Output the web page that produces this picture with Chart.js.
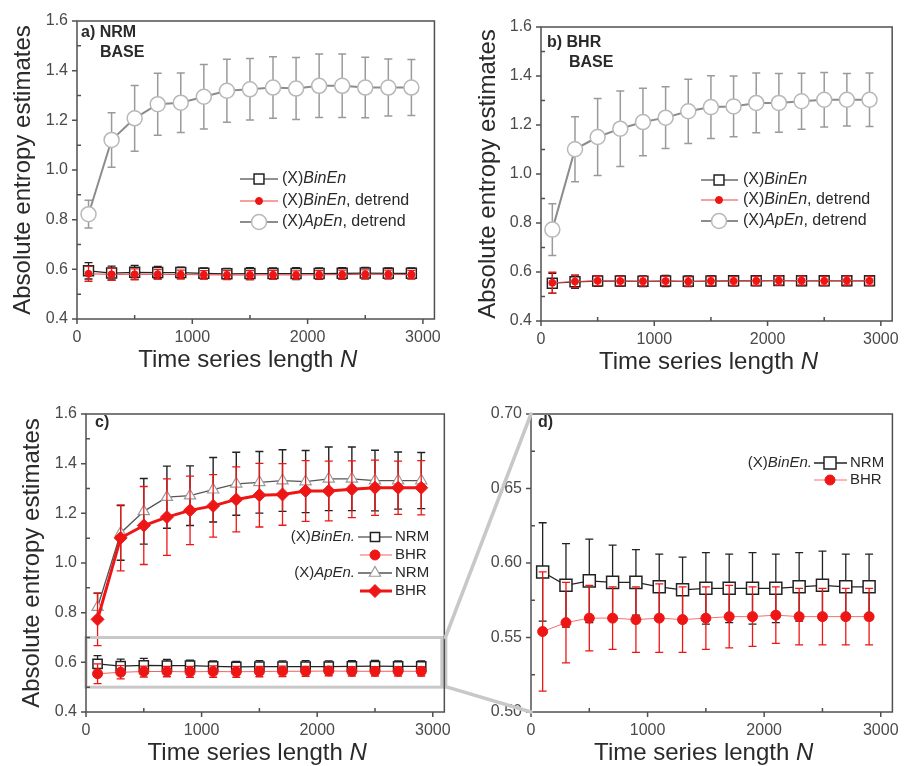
<!DOCTYPE html>
<html>
<head>
<meta charset="utf-8">
<script src="https://cdn.jsdelivr.net/npm/chart.js@4.4.1/dist/chart.umd.min.js"></script>
<style>
  body { margin: 0; background: #fff; width: 908px; height: 766px; position: relative; overflow: hidden; }
  canvas { position: absolute; }
  #overlay { left: 0; top: 0; pointer-events: none; }
</style>
</head>
<body>
<canvas id="ca"></canvas>
<canvas id="cb"></canvas>
<canvas id="cc"></canvas>
<canvas id="cd"></canvas>
<canvas id="overlay" width="908" height="766"></canvas>
<script>
/* entropy vs time series length, four panels */

// ---- data ----
var N = [100, 300, 500, 700, 900, 1100, 1300, 1500, 1700, 1900, 2100, 2300, 2500, 2700, 2900];

var xTicks = [0, 1000, 2000, 3000];
var xMinor = [500, 1500, 2500];
var yTicksFull = [0.4, 0.6, 0.8, 1.0, 1.2, 1.4, 1.6];
var yMinorFull = [0.5, 0.7, 0.9, 1.1, 1.3, 1.5];
var yTicksZoom = [0.50, 0.55, 0.60, 0.65, 0.70];
var yMinorZoom = [0.525, 0.575, 0.625, 0.675];
var zoomRange = [0.5, 0.7];

// (X)ApEn, detrend
var apenNrm    = [0.822, 1.121, 1.208, 1.265, 1.271, 1.295, 1.319, 1.325, 1.332, 1.328, 1.339, 1.339, 1.332, 1.332, 1.332];
var apenNrmErr = [0.056, 0.110, 0.132, 0.125, 0.120, 0.130, 0.127, 0.124, 0.124, 0.125, 0.128, 0.128, 0.122, 0.115, 0.113];
var apenBhr    = [0.773, 1.101, 1.151, 1.185, 1.212, 1.230, 1.256, 1.273, 1.276, 1.290, 1.290, 1.297, 1.303, 1.303, 1.303];
var apenBhrErr = [0.106, 0.133, 0.157, 0.154, 0.138, 0.126, 0.131, 0.128, 0.124, 0.122, 0.120, 0.114, 0.111, 0.107, 0.109];

// (X)BinEn
var binenNrm    = [0.594, 0.585, 0.588, 0.587, 0.587, 0.584, 0.582, 0.583, 0.583, 0.583, 0.583, 0.584, 0.585, 0.584, 0.584];
var binenNrmErr = [0.033, 0.028, 0.028, 0.025, 0.022, 0.022, 0.022, 0.024, 0.023, 0.024, 0.023, 0.023, 0.023, 0.022, 0.022];
var binenBhr    = [0.554, 0.560, 0.563, 0.563, 0.562, 0.563, 0.562, 0.563, 0.564, 0.564, 0.565, 0.564, 0.564, 0.564, 0.564];
var binenBhrErr = [0.040, 0.027, 0.022, 0.021, 0.022, 0.023, 0.022, 0.021, 0.021, 0.020, 0.019, 0.019, 0.019, 0.019, 0.019];

// (X)BinEn, detrend
var binenNrmDet    = [0.582, 0.580, 0.580, 0.580, 0.579, 0.578, 0.577, 0.577, 0.578, 0.577, 0.578, 0.579, 0.580, 0.580, 0.579];
var binenNrmDetErr = [0.030, 0.024, 0.022, 0.019, 0.018, 0.017, 0.018, 0.018, 0.018, 0.017, 0.017, 0.018, 0.018, 0.017, 0.017];
var binenBhrDet    = [0.556, 0.561, 0.564, 0.563, 0.562, 0.563, 0.561, 0.563, 0.563, 0.564, 0.565, 0.565, 0.564, 0.565, 0.564];
var binenBhrDetErr = [0.043, 0.025, 0.020, 0.019, 0.019, 0.019, 0.019, 0.018, 0.018, 0.018, 0.018, 0.018, 0.018, 0.018, 0.018];

// ---- styles ----
var FONT = 'Arial, "Liberation Sans", sans-serif';
var RED = '#ee1515';
var TICK_COLOR = '#4a4a4a';
var TEXT_COLOR = '#2a2a2a';
var FRAME_COLOR = '#505050';
var ZOOM_GRAY = '#c8c8c8';

var STY = {
  apenGray:  { line: '#8c8c8c', lineWidth: 2, shape: 'circle', r: 7.5, fill: '#fff', edge: '#b8b8b8', edgeWidth: 1.5, err: '#9a9a9a', errWidth: 1.5 },
  sqA:       { line: '#222', lineWidth: 1.2, shape: 'rect', r: 7, fill: '#fff', edge: '#222', edgeWidth: 1.5, err: '#222', errWidth: 1.3 },
  dotA:      { line: '#f04040', lineWidth: 1, shape: 'circle', r: 3.5, fill: RED, edge: RED, edgeWidth: 1, err: RED, errWidth: 1.3 },
  triC:      { line: '#555', lineWidth: 1.3, shape: 'triangle', r: 6.5, fill: '#fff', edge: '#9a9a9a', edgeWidth: 1.2, err: '#222', errWidth: 1.4 },
  diaC:      { line: RED, lineWidth: 3, shape: 'rectRot', r: 6.5, fill: RED, edge: RED, edgeWidth: 1, err: RED, errWidth: 1.3 },
  sqC:       { line: '#222', lineWidth: 1.2, shape: 'rect', r: 6.5, fill: '#fff', edge: '#222', edgeWidth: 1.5, err: '#222', errWidth: 1.3 },
  dotC:      { line: '#f26060', lineWidth: 1, shape: 'circle', r: 5, fill: RED, edge: RED, edgeWidth: 1, err: RED, errWidth: 1.3 },
  sqD:       { line: '#222', lineWidth: 1.3, shape: 'rect', r: 8.5, fill: '#fff', edge: '#222', edgeWidth: 1.5, err: '#222', errWidth: 1.3 },
  dotD:      { line: '#f47070', lineWidth: 1, shape: 'circle', r: 5, fill: RED, edge: RED, edgeWidth: 1, err: RED, errWidth: 1.3 }
};

function pts(values) {
  return N.map(function (x, i) { return { x: x, y: values[i] }; });
}

function series(values, errors, st) {
  return {
    data: pts(values), errors: errors, errColor: st.err, errWidth: st.errWidth,
    borderColor: st.line, borderWidth: st.lineWidth, showLine: true, tension: 0, fill: false,
    pointStyle: st.shape, pointRadius: st.r, pointHoverRadius: st.r,
    pointBackgroundColor: st.fill, pointBorderColor: st.edge, pointBorderWidth: st.edgeWidth
  };
}

function richText(ctx, parts, x, y, size, align, bold) {
  var w = 0;
  parts.forEach(function (p) {
    ctx.font = (p[1] ? 'italic ' : '') + (bold ? 'bold ' : '') + size + 'px ' + FONT;
    w += ctx.measureText(p[0]).width;
  });
  var cx = align === 'right' ? x - w : (align === 'center' ? x - w / 2 : x);
  ctx.textAlign = 'left';
  ctx.textBaseline = 'middle';
  parts.forEach(function (p) {
    ctx.font = (p[1] ? 'italic ' : '') + (bold ? 'bold ' : '') + size + 'px ' + FONT;
    ctx.fillText(p[0], cx, y);
    cx += ctx.measureText(p[0]).width;
  });
}

// error bars, ticks, frame, titles, legend
var decor = {
  id: 'decor',
  beforeDatasetDraw: function (chart, args) {
    var ds = chart.data.datasets[args.index];
    if (!ds.errors) return;
    var ctx = chart.ctx, xs = chart.scales.x, ys = chart.scales.y, a = chart.chartArea;
    ctx.save();
    ctx.beginPath(); ctx.rect(a.left, a.top, a.right - a.left, a.bottom - a.top); ctx.clip();
    ctx.strokeStyle = ds.errColor; ctx.lineWidth = ds.errWidth;
    ds.data.forEach(function (p, j) {
      var x = xs.getPixelForValue(p.x);
      var yt = ys.getPixelForValue(p.y + ds.errors[j]);
      var yb = ys.getPixelForValue(p.y - ds.errors[j]);
      ctx.beginPath();
      ctx.moveTo(x, yt); ctx.lineTo(x, yb);
      ctx.moveTo(x - 4, yt); ctx.lineTo(x + 4, yt);
      ctx.moveTo(x - 4, yb); ctx.lineTo(x + 4, yb);
      ctx.stroke();
    });
    ctx.restore();
  },
  afterDraw: function (chart) {
    var o = chart.options.plugins.decor;
    var ctx = chart.ctx, a = chart.chartArea, xs = chart.scales.x, ys = chart.scales.y;
    ctx.save();
    // zoom box (panel c)
    if (o.zoomBox) {
      var t = ys.getPixelForValue(zoomRange[1]), b = ys.getPixelForValue(zoomRange[0]);
      ctx.strokeStyle = ZOOM_GRAY; ctx.lineWidth = 3;
      ctx.strokeRect(a.left, t, a.right - a.left + 1, b - t);
      ctx.fillStyle = ZOOM_GRAY;
      ctx.fillRect(a.right - 4, t, 7, b - t);
    }
    // frame
    ctx.strokeStyle = FRAME_COLOR; ctx.lineWidth = 1.5;
    ctx.strokeRect(a.left, a.top, a.right - a.left, a.bottom - a.top);
    // ticks
    ctx.beginPath();
    xTicks.forEach(function (v) { var x = xs.getPixelForValue(v); ctx.moveTo(x, a.bottom); ctx.lineTo(x, a.bottom + 5); });
    xMinor.forEach(function (v) { var x = xs.getPixelForValue(v); ctx.moveTo(x, a.bottom); ctx.lineTo(x, a.bottom - 4); });
    o.yMajor.forEach(function (v) { var y = ys.getPixelForValue(v); ctx.moveTo(a.left - 5, y); ctx.lineTo(a.left, y); });
    o.yMinor.forEach(function (v) { var y = ys.getPixelForValue(v); ctx.moveTo(a.left, y); ctx.lineTo(a.left + 4, y); });
    ctx.stroke();
    // axis titles
    ctx.fillStyle = TEXT_COLOR;
    richText(ctx, [['Time series length ', false], ['N', true]], (a.left + a.right) / 2 - 8, a.bottom + 41, 24, 'center');
    if (o.yTitle) {
      ctx.save();
      ctx.translate(o.yTitleX, (a.top + a.bottom) / 2);
      ctx.rotate(-Math.PI / 2);
      richText(ctx, [[o.yTitle, false]], 0, 0, 24, 'center');
      ctx.restore();
    }
    // panel labels
    o.labels.forEach(function (l) { richText(ctx, [[l.text, false]], l.x, l.y, 16, 'left', true); });
    // legend
    o.legend.forEach(function (it) {
      if (it.prefix) richText(ctx, it.prefix, it.prefixX, it.y, it.size, 'right');
      if (it.ds !== undefined) {
        var ds = chart.data.datasets[it.ds];
        ctx.strokeStyle = ds.borderColor; ctx.lineWidth = ds.borderWidth;
        ctx.beginPath(); ctx.moveTo(it.x0, it.y); ctx.lineTo(it.x1, it.y); ctx.stroke();
        ctx.fillStyle = ds.pointBackgroundColor; ctx.strokeStyle = ds.pointBorderColor; ctx.lineWidth = ds.pointBorderWidth;
        Chart.helpers.drawPoint(ctx, { pointStyle: ds.pointStyle, radius: ds.pointRadius, rotation: 0, borderWidth: ds.pointBorderWidth }, it.mx, it.y);
      }
      ctx.fillStyle = TEXT_COLOR;
      richText(ctx, it.parts, it.tx, it.y, it.size, 'left');
    });
    ctx.restore();
  }
};

function makePanel(id, box, yMin, yMax, yTicks, yMinor, digits, datasets, deco) {
  var cv = document.getElementById(id);
  cv.width = box.w; cv.height = box.h;
  cv.style.left = box.left + 'px'; cv.style.top = box.top + 'px';
  cv.style.width = box.w + 'px'; cv.style.height = box.h + 'px';
  var tickFont = { family: FONT, size: 16 };
  deco.yMajor = yTicks; deco.yMinor = yMinor;
  return new Chart(cv.getContext('2d'), {
    type: 'scatter',
    data: { datasets: datasets },
    options: {
      responsive: false, animation: false, devicePixelRatio: 1,
      layout: { padding: { left: 0, top: box.area.t, right: box.w - box.area.r, bottom: 0 } },
      plugins: { legend: { display: false }, tooltip: { enabled: false }, decor: deco },
      scales: {
        x: {
          type: 'linear', min: 0, max: 3100,
          afterBuildTicks: function (s) { s.ticks = xTicks.map(function (v) { return { value: v }; }); },
          afterFit: function (s) { s.height = box.h - box.area.b; },
          grid: { display: false, drawTicks: false }, border: { display: false },
          ticks: { font: tickFont, color: TICK_COLOR, padding: 9, autoSkip: false, maxRotation: 0,
            callback: function (v) { return String(v); } }
        },
        y: {
          type: 'linear', min: yMin, max: yMax,
          afterBuildTicks: function (s) { s.ticks = yTicks.map(function (v) { return { value: v }; }); },
          afterFit: function (s) { s.width = box.area.l; },
          grid: { display: false, drawTicks: false }, border: { display: false },
          ticks: { font: tickFont, color: TICK_COLOR, padding: 9, autoSkip: false,
            callback: function (v) { return Number(v).toFixed(digits); } }
        }
      }
    },
    plugins: [decor]
  });
}

var YT = 'Absolute entropy estimates';

// a) NRM BASE
var chartA = makePanel('ca', { left: 0, top: 0, w: 450, h: 380, area: { l: 77, t: 21, r: 442, b: 319 } },
  0.4, 1.6, yTicksFull, yMinorFull, 1,
  [series(apenNrm, apenNrmErr, STY.apenGray), series(binenNrmDet, binenNrmDetErr, STY.dotA), series(binenNrm, binenNrmErr, STY.sqA)],
  { yTitle: YT, yTitleX: 23,
    labels: [{ text: 'a) NRM', x: 81, y: 33 }, { text: 'BASE', x: 100, y: 53 }],
    legend: [
      { ds: 2, x0: 240, x1: 278, mx: 259, y: 179, tx: 282, size: 16, parts: [['(X)', false], ['BinEn', true]] },
      { ds: 1, x0: 240, x1: 278, mx: 259, y: 201, tx: 282, size: 16, parts: [['(X)', false], ['BinEn', true], [', detrend', false]] },
      { ds: 0, x0: 240, x1: 278, mx: 259, y: 222, tx: 282, size: 16, parts: [['(X)', false], ['ApEn', true], [', detrend', false]] }
    ] });

// b) BHR BASE
var chartB = makePanel('cb', { left: 450, top: 0, w: 458, h: 380, area: { l: 91, t: 27, r: 447, b: 321 } },
  0.4, 1.6, yTicksFull, yMinorFull, 1,
  [series(apenBhr, apenBhrErr, STY.apenGray), series(binenBhrDet, binenBhrDetErr, STY.dotA), series(binenBhr, binenBhrErr, STY.sqA)],
  { yTitle: YT, yTitleX: 38,
    labels: [{ text: 'b) BHR', x: 97, y: 43 }, { text: 'BASE', x: 119, y: 63 }],
    legend: [
      { ds: 2, x0: 251, x1: 288, mx: 269, y: 180, tx: 293, size: 16, parts: [['(X)', false], ['BinEn', true]] },
      { ds: 1, x0: 251, x1: 288, mx: 269, y: 200, tx: 293, size: 16, parts: [['(X)', false], ['BinEn', true], [', detrend', false]] },
      { ds: 0, x0: 251, x1: 288, mx: 269, y: 221, tx: 293, size: 16, parts: [['(X)', false], ['ApEn', true], [', detrend', false]] }
    ] });

// c) NRM vs BHR
var chartC = makePanel('cc', { left: 0, top: 380, w: 460, h: 386, area: { l: 86, t: 34, r: 447, b: 332 } },
  0.4, 1.6, yTicksFull, yMinorFull, 1,
  [series(apenBhr, apenBhrErr, STY.diaC), series(apenNrm, apenNrmErr, STY.triC),
   series(binenBhr, binenBhrErr, STY.dotC), series(binenNrm, binenNrmErr, STY.sqC)],
  { yTitle: YT, yTitleX: 32, zoomBox: true,
    labels: [{ text: 'c)', x: 95, y: 43 }],
    legend: [
      { ds: 3, x0: 358, x1: 392, mx: 375, y: 157, tx: 395, size: 15, parts: [['NRM', false]],
        prefix: [['(X)', false], ['BinEn.', true]], prefixX: 355 },
      { ds: 2, x0: 360, x1: 392, mx: 375, y: 175, tx: 395, size: 15, parts: [['BHR', false]] },
      { ds: 1, x0: 358, x1: 392, mx: 375, y: 193, tx: 395, size: 15, parts: [['NRM', false]],
        prefix: [['(X)', false], ['ApEn.', true]], prefixX: 355 },
      { ds: 0, x0: 360, x1: 392, mx: 375, y: 211, tx: 395, size: 15, parts: [['BHR', false]] }
    ] });

// d) zoom of BinEn
var chartD = makePanel('cd', { left: 460, top: 380, w: 448, h: 386, area: { l: 71, t: 34, r: 434, b: 332 } },
  zoomRange[0], zoomRange[1], yTicksZoom, yMinorZoom, 2,
  [series(binenBhr, binenBhrErr, STY.dotD), series(binenNrm, binenNrmErr, STY.sqD)],
  { yTitle: null,
    labels: [{ text: 'd)', x: 78, y: 43 }],
    legend: [
      { ds: 1, x0: 354, x1: 387, mx: 370, y: 83, tx: 390, size: 15, parts: [['NRM', false]],
        prefix: [['(X)', false], ['BinEn.', true]], prefixX: 352 },
      { ds: 0, x0: 354, x1: 387, mx: 370, y: 100, tx: 390, size: 15, parts: [['BHR', false]] }
    ] });

// connector lines from the box in c) to the corners of d)
(function () {
  var ctx = document.getElementById('overlay').getContext('2d');
  var ac = chartC.chartArea, ad = chartD.chartArea;
  var cTop = 380 + chartC.scales.y.getPixelForValue(zoomRange[1]);
  var cBot = 380 + chartC.scales.y.getPixelForValue(zoomRange[0]);
  var dTop = 380 + chartD.scales.y.getPixelForValue(zoomRange[1]);
  var dBot = 380 + chartD.scales.y.getPixelForValue(zoomRange[0]);
  ctx.strokeStyle = ZOOM_GRAY; ctx.lineWidth = 3.5; ctx.lineCap = 'round';
  ctx.beginPath();
  ctx.moveTo(ac.right + 1, cTop); ctx.lineTo(460 + ad.left, dTop);
  ctx.moveTo(ac.right + 3, cBot); ctx.lineTo(460 + ad.left, dBot);
  ctx.stroke();
})();
</script>
</body>
</html>
